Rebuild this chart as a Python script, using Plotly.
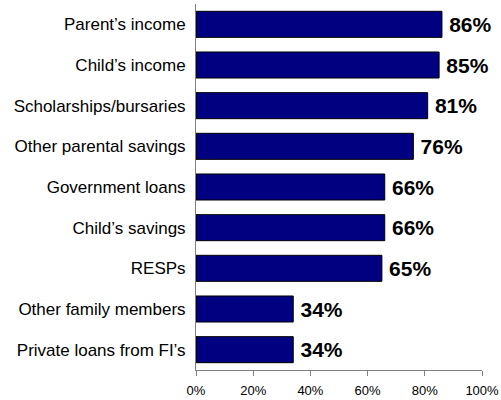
import plotly.graph_objects as go

# Sources of funding for post-secondary education
categories = [
    "Parent\u2019s income",
    "Child\u2019s income",
    "Scholarships/bursaries",
    "Other parental savings",
    "Government loans",
    "Child\u2019s savings",
    "RESPs",
    "Other family members",
    "Private loans from FI\u2019s",
]
values = [86, 85, 81, 76, 66, 66, 65, 34, 34]
tick_values = [0, 20, 40, 60, 80, 100]
tick_labels = ["0%", "20%", "40%", "60%", "80%", "100%"]

fig = go.Figure(
    go.Bar(
        x=values,
        y=categories,
        orientation="h",
        marker=dict(color="#000080", line=dict(color="#000000", width=1)),
        text=[f"{v}%" for v in values],
        textposition="outside",
        textfont=dict(family="Liberation Sans, Arial", size=21, color="#000000"),
        texttemplate="\u2009<b>%{text}</b>",
        cliponaxis=False,
    )
)

fig.update_layout(
    width=501,
    height=400,
    margin=dict(l=196, r=19, t=4, b=30),
    paper_bgcolor="white",
    plot_bgcolor="white",
    bargap=0.36,
    showlegend=False,
    font=dict(family="Liberation Sans, Arial", color="#000000"),
)

fig.update_xaxes(
    range=[0, 100],
    tickvals=tick_values,
    ticktext=tick_labels,
    showgrid=False,
    zeroline=False,
    showline=True,
    linecolor="#808080",
    linewidth=1,
    ticks="outside",
    ticklen=5,
    tickcolor="#808080",
    tickfont=dict(size=13),
    ticklabelstandoff=3,
    automargin=False,
)

fig.update_yaxes(
    categoryorder="array",
    categoryarray=categories[::-1],
    showgrid=False,
    zeroline=False,
    showline=True,
    linecolor="#808080",
    linewidth=1,
    ticks="",
    tickfont=dict(size=17),
    ticklabelstandoff=6,
    automargin=False,
)

fig.write_html("out.html")
